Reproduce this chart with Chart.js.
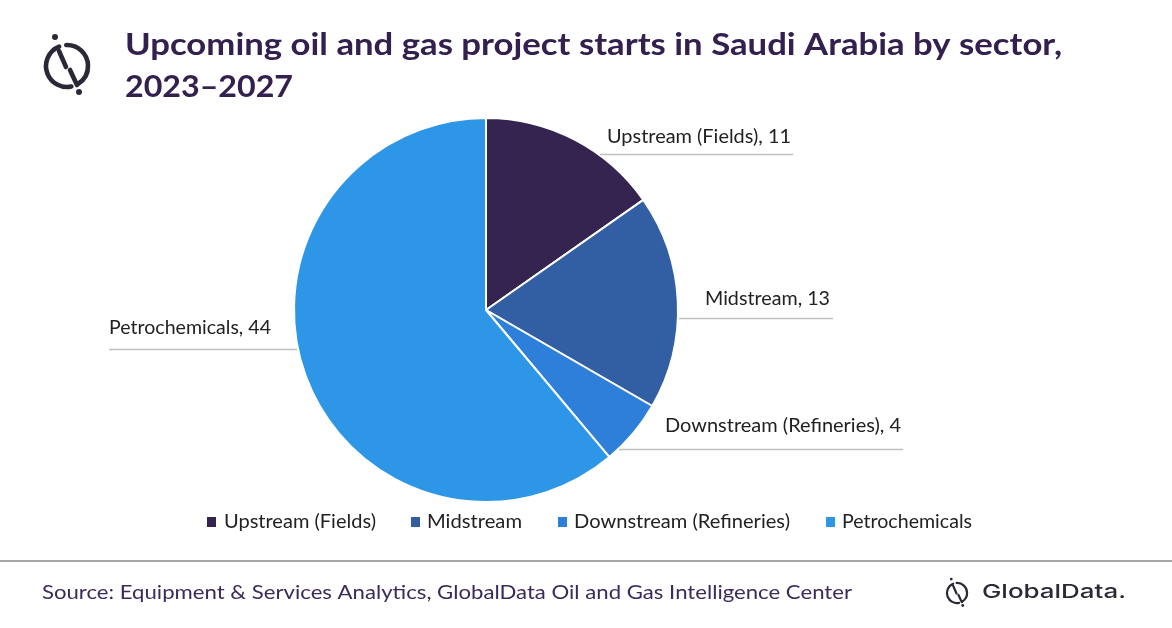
<!DOCTYPE html>
<html>
<head>
<meta charset="utf-8">
<script src="https://cdn.jsdelivr.net/npm/chart.js@4.4.0/dist/chart.umd.min.js"></script>
<style>
html,body{margin:0;padding:0;background:#fff;}
#wrap{width:1172px;height:628px;position:relative;}
canvas{display:block;}
</style>
</head>
<body>
<div id="wrap"><canvas id="c" width="1172" height="628"></canvas></div>
<script>
// ---- data ----
const sectors = ["Upstream (Fields)", "Midstream", "Downstream (Refineries)", "Petrochemicals"];
const projectStarts = [11, 13, 4, 44];
const sectorColors = ["#352350", "#325fa4", "#2e7fda", "#2e96e6"];
const titleLines = ["Upcoming oil and gas project starts in Saudi Arabia by sector,", "2023\u20132027"];
const sourceText = "Source: Equipment & Services Analytics, GlobalData Oil and Gas Intelligence Center";

// ---- layout (text placement only) ----
const labelLayout = [
  {tx: 607, ty: 137, tw: 184, lx1: 600, lx2: 793, ly: 154},
  {tx: 705, ty: 299, tw: 125, lx1: 679, lx2: 833, ly: 318},
  {tx: 665, ty: 426, tw: 236, lx1: 619, lx2: 903, ly: 449},
  {tx: 109, ty: 328, tw: 162, lx1: 109, lx2: 297, ly: 349}
];
const legendLayout = [
  {sx: 207, tx: 224, tw: 152},
  {sx: 411, tx: 427, tw: 95},
  {sx: 558, tx: 574, tw: 216},
  {sx: 826, tx: 842, tw: 130}
];

function fitText(ctx, text, x, y, targetW, font, color, baseline) {
  ctx.save();
  ctx.font = font;
  ctx.fillStyle = color;
  ctx.textBaseline = baseline || 'middle';
  ctx.textAlign = 'left';
  const w = ctx.measureText(text).width;
  const s = targetW / w;
  ctx.translate(x, y);
  ctx.scale(s, 1);
  ctx.fillText(text, 0, 0);
  ctx.restore();
}

function drawLogo(ctx, cx, cy, sc, color) {
  ctx.save();
  ctx.translate(cx, cy);
  ctx.scale(sc, sc);
  ctx.strokeStyle = color;
  ctx.fillStyle = color;
  ctx.lineWidth = 4.6;
  ctx.lineCap = 'round';
  const r = 21;
  const d = Math.PI / 180;
  // left arc
  ctx.beginPath();
  ctx.arc(0, 0, r, -112 * d, 78 * d, true);
  ctx.stroke();
  // right arc
  ctx.beginPath();
  ctx.arc(0, 0, r, -92 * d, 58 * d, false);
  ctx.stroke();
  // slash segments
  ctx.beginPath();
  ctx.moveTo(-8, -15); ctx.lineTo(-1, 1);
  ctx.moveTo(3, 4); ctx.lineTo(10, 19);
  ctx.stroke();
  // dots
  ctx.beginPath(); ctx.arc(-12, -29, 3, 0, Math.PI * 2); ctx.fill();
  ctx.beginPath(); ctx.arc(12, 26, 3, 0, Math.PI * 2); ctx.fill();
  ctx.restore();
}

const decor = {
  id: 'decor',
  afterDraw(chart) {
    const ctx = chart.ctx;
    // header logo + title
    drawLogo(ctx, 67, 66, 1, '#2b2838');
    fitText(ctx, titleLines[0], 125, 55, 937, 'bold 30px Lato', '#33204f', 'alphabetic');
    fitText(ctx, titleLines[1], 125, 97, 168, 'bold 30px Lato', '#33204f', 'alphabetic');

    // data labels with underline leaders
    const meta = chart.getDatasetMeta(0);
    meta.data.forEach((arc, i) => {
      const L = labelLayout[i];
      const txt = chart.data.labels[i] + ', ' + chart.data.datasets[0].data[i];
      fitText(ctx, txt, L.tx, L.ty, L.tw, '18.5px Lato', '#222222');
      ctx.save();
      ctx.strokeStyle = '#bfbfbf';
      ctx.lineWidth = 1.3;
      ctx.beginPath();
      ctx.moveTo(L.lx1, L.ly + 0.5);
      ctx.lineTo(L.lx2, L.ly + 0.5);
      ctx.stroke();
      ctx.restore();
    });

    // legend
    chart.data.labels.forEach((lab, i) => {
      const G = legendLayout[i];
      ctx.fillStyle = chart.data.datasets[0].backgroundColor[i];
      ctx.fillRect(G.sx, 517, 9, 10);
      fitText(ctx, lab, G.tx, 522, G.tw, '18.5px Lato', '#222222');
    });

    // footer
    ctx.save();
    ctx.strokeStyle = '#a6a6a6';
    ctx.lineWidth = 2;
    ctx.beginPath();
    ctx.moveTo(0, 561); ctx.lineTo(1172, 561);
    ctx.stroke();
    ctx.restore();
    fitText(ctx, sourceText, 42, 593, 810, '19px Lato', '#3b2a5a');
    drawLogo(ctx, 957, 593, 0.48, '#2b2838');
    fitText(ctx, 'GlobalData.', 982, 598, 144, '500 19px Inter', '#2b2838', 'alphabetic');
  }
};

new Chart(document.getElementById('c'), {
  type: 'pie',
  data: {
    labels: sectors,
    datasets: [{
      data: projectStarts,
      backgroundColor: sectorColors,
      borderColor: '#ffffff',
      borderWidth: 2,
      hoverOffset: 0
    }]
  },
  options: {
    responsive: false,
    animation: false,
    devicePixelRatio: 1,
    layout: {padding: {left: 293, right: 493, top: 117, bottom: 125}},
    plugins: {
      legend: {display: false},
      tooltip: {enabled: false},
      title: {display: false}
    }
  },
  plugins: [decor]
});
</script>
</body>
</html>
